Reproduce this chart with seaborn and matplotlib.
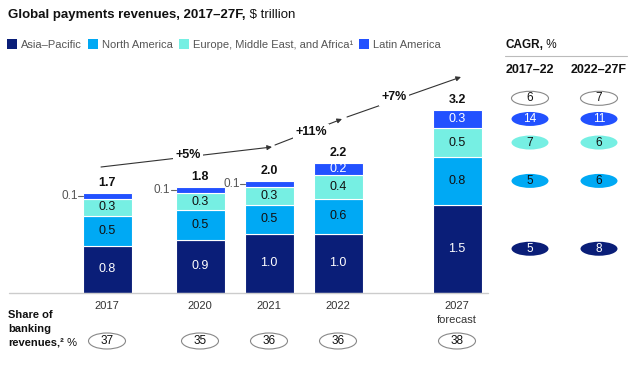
import numpy as np
import matplotlib
matplotlib.use('Agg')
import seaborn as sns
from matplotlib import pyplot as plt
from matplotlib.patches import Ellipse, Patch

# data ($ trillion)
years = ['2017', '2020', '2021', '2022', '2027']
year_notes = ['', '', '', '', 'forecast']
regions = ['Asia–Pacific', 'North America',
           'Europe, Middle East, and Africa¹', 'Latin America']
asia_pacific = [0.8, 0.9, 1.0, 1.0, 1.5]
north_america = [0.5, 0.5, 0.5, 0.6, 0.8]
emea = [0.3, 0.3, 0.3, 0.4, 0.5]
latin_america = [0.1, 0.1, 0.1, 0.2, 0.3]
totals = [1.7, 1.8, 2.0, 2.2, 3.2]
growth = ['+5%', '+11%', '+7%']
banking_share = [37, 35, 36, 36, 38]
# CAGR, % : total first, then regions in legend order
cagr_total = [6, 7]
cagr_2017_22 = [5, 5, 7, 14]
cagr_2022_27 = [8, 6, 6, 11]
cagr_headers = ['2017–22', '2022–27F']

# styling / layout
colors = ['#0A1E78', '#00A9F4', '#76EFE3', '#2251FF']
label_colors = ['white', '#111111', '#111111', 'white']
x_pos = [107, 200, 269, 338, 457]   # bar centres, px
bar_w = 49
W, H = 640, 368
BASE, SCALE = 293, 59                 # baseline px from top, px per unit


def ypx(py):
    """pixel row (from top) -> data y"""
    return (BASE - py) / SCALE


sns.set_theme(style='white')
plt.rcParams['font.family'] = ['Liberation Sans', 'DejaVu Sans']

fig = plt.figure(figsize=(W / 100, H / 100), dpi=100)
ax = fig.add_axes([0, 0, 1, 1])
ax.set_xlim(0, W)
ax.set_ylim(ypx(H), ypx(0))
ax.axis('off')
renderer = fig.canvas.get_renderer()


def rich(x, y, parts, size):
    """draw text pieces one after another, x/y in px from top-left"""
    for txt, weight in parts:
        t = fig.text(x / W, 1 - y / H, txt, fontsize=size, weight=weight,
                     va='center', ha='left', color='#111111')
        x += t.get_window_extent(renderer).width


# stacked bars
series = [asia_pacific, north_america, emea, latin_america]
bottom = np.zeros(len(years))
for vals, col, lcol in zip(series, colors, label_colors):
    vals = np.array(vals)
    ax.bar(x_pos, vals, bottom=bottom, width=bar_w, color=col,
           edgecolor='white', linewidth=0.8)
    for x, b, v in zip(x_pos, bottom, vals):
        if v < 0.15:
            left = x - bar_w / 2
            ax.plot([left - 5, left], [b + v / 2] * 2, color='#666666',
                    lw=0.8)
            ax.text(left - 5, b + v / 2, f'{v:.1f}', ha='right',
                    va='center', fontsize=8.5, color='#555555')
        else:
            ax.text(x, b + v / 2, f'{v:.1f}', ha='center', va='center',
                    fontsize=9, color=lcol)
    bottom += vals

for x, top, tot in zip(x_pos, bottom, totals):
    ax.text(x, top + 0.17, f'{tot:.1f}', ha='center', va='center',
            fontsize=9, weight='bold', color='#111111')

ax.plot([9, 488], [0, 0], color='#cccccc', lw=1)

# growth arrows
arrows = [((101, 167), (272, 147)), ((275, 145), (342, 119)),
          ((347, 117), (461, 77))]
arrow_labels = [(188, 155), (311, 132), (394, 97)]
for ((x0, y0), (x1, y1)), (lx, ly), g in zip(arrows, arrow_labels, growth):
    ax.annotate('', xy=(x1, ypx(y1)), xytext=(x0, ypx(y0)),
                arrowprops=dict(arrowstyle='-|>', color='#333333', lw=0.8,
                                mutation_scale=7, shrinkA=0, shrinkB=0))
    ax.text(lx, ypx(ly), g, ha='center', va='center', fontsize=9,
            weight='bold', color='#111111', zorder=5,
            bbox=dict(boxstyle='square,pad=0.2', fc='white', ec='none'))

# year labels and share of banking revenues
for x, yr, note, share in zip(x_pos, years, year_notes, banking_share):
    ax.text(x, ypx(306), yr, ha='center', va='center', fontsize=8,
            color='#333333')
    if note:
        ax.text(x, ypx(320), note, ha='center', va='center', fontsize=8,
                color='#333333')
    ax.add_patch(Ellipse((x, ypx(341)), 37, 16 / SCALE, fc='white',
                         ec='#888888', lw=0.8))
    ax.text(x, ypx(341), str(share), ha='center', va='center', fontsize=8.5,
            color='#111111')

rich(8, 315, [('Share of', 'bold')], 8)
rich(8, 329, [('banking', 'bold')], 8)
rich(8, 343, [('revenues,²', 'bold'), (' %', 'normal')], 8)

# CAGR panel, rows aligned with the 2027 bar segments
rich(505, 45, [('CAGR,', 'bold'), (' %', 'normal')], 8.5)
ax.plot([505, 627], [ypx(56)] * 2, color='#bbbbbb', lw=0.8)
cagr_x = [530, 599]
last = np.array([s[-1] for s in series])
mids = np.cumsum(last) - last / 2
top_row = last.sum() + 0.2
for cx, head, tot, vals in zip(cagr_x, cagr_headers, cagr_total,
                               [cagr_2017_22, cagr_2022_27]):
    ax.text(cx, ypx(70), head, ha='center', va='center', fontsize=9,
            weight='bold', color='#111111')
    ax.add_patch(Ellipse((cx, top_row), 37, 14 / SCALE, fc='white',
                         ec='#888888', lw=0.8))
    ax.text(cx, top_row, str(tot), ha='center', va='center', fontsize=8.5,
            color='#111111')
    for m, v, col, lcol in zip(mids, vals, colors, label_colors):
        ax.add_patch(Ellipse((cx, m), 37, 14 / SCALE, fc=col, ec='none'))
        ax.text(cx, m, str(v), ha='center', va='center', fontsize=8.5,
                color=lcol)

# title and legend
rich(8, 15, [('Global payments revenues, 2017–27F,', 'bold'),
             (' $ trillion', 'normal')], 9.5)
handles = [Patch(facecolor=c, edgecolor='none') for c in colors]
fig.legend(handles, regions, loc='center left',
           bbox_to_anchor=(7 / W, 1 - 44.5 / H), ncol=4, frameon=False,
           fontsize=8, handlelength=0.9, handleheight=0.9,
           handletextpad=0.35, columnspacing=0.55, borderpad=0,
           borderaxespad=0, labelcolor='#555555')

fig.savefig('out.png', dpi=100)
